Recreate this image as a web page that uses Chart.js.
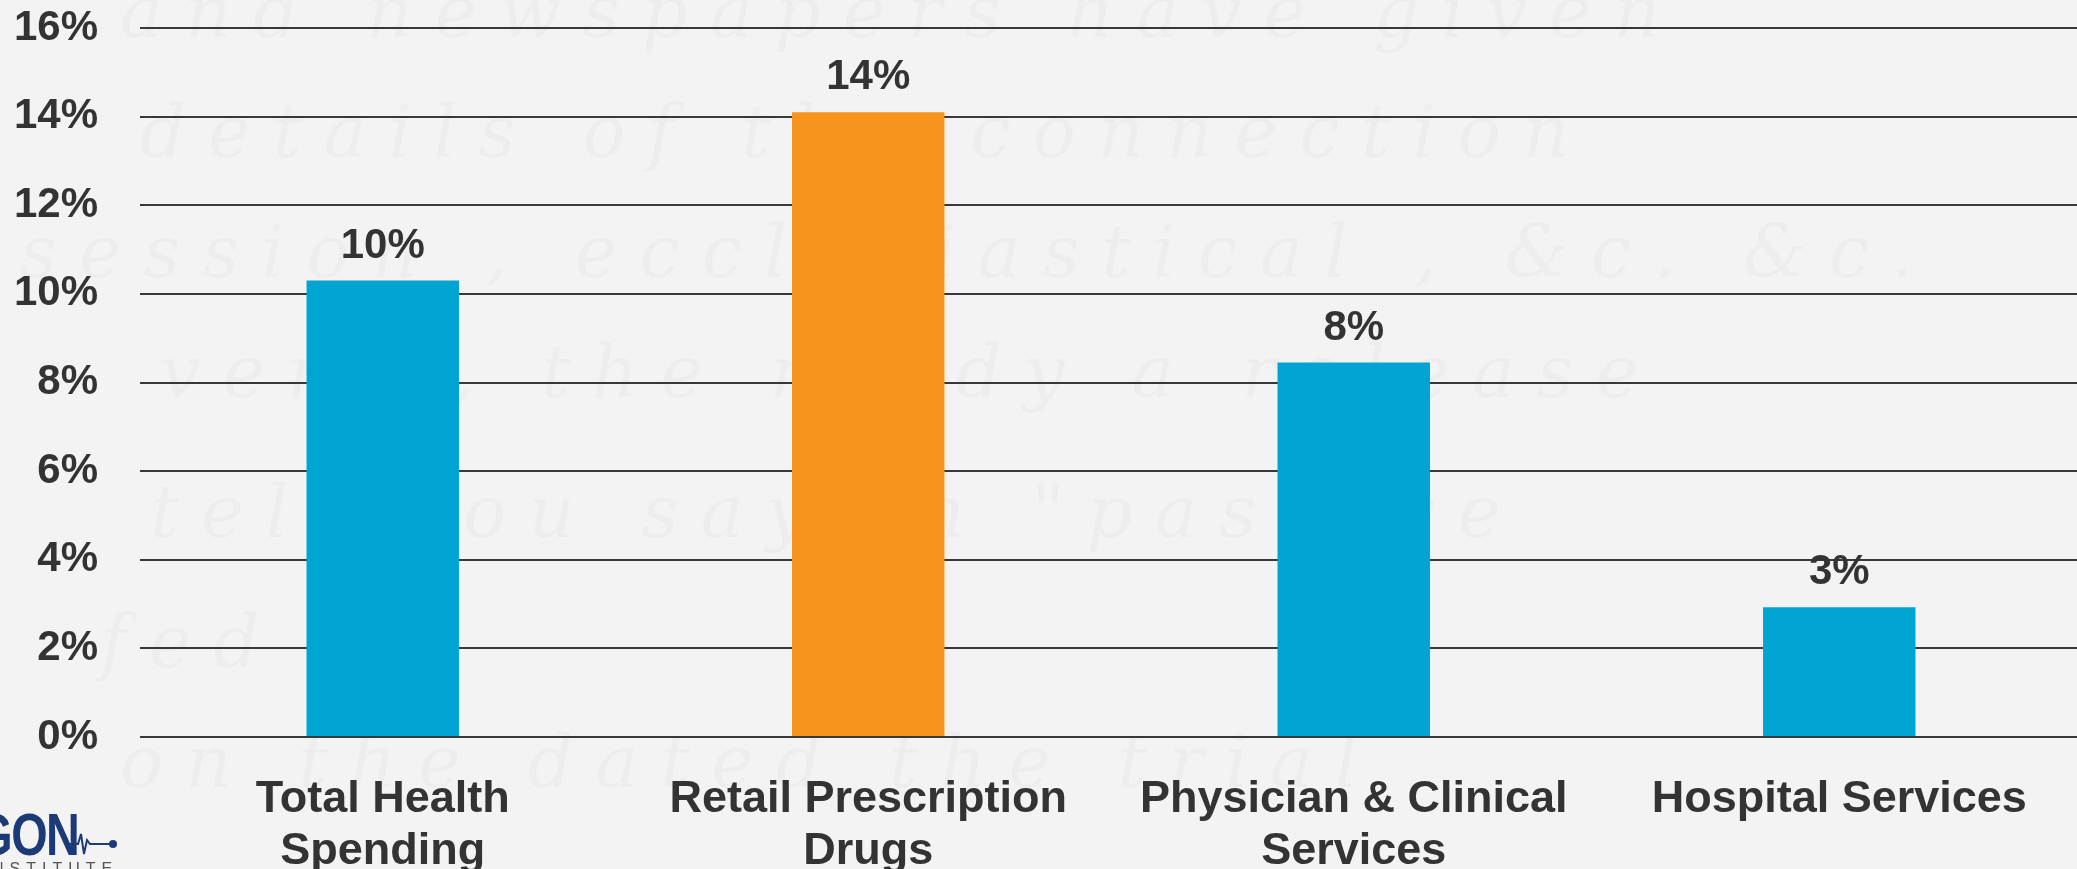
<!DOCTYPE html>
<html>
<head>
<meta charset="utf-8">
<title>Health spending growth</title>
<script src="https://cdn.jsdelivr.net/npm/chart.js@4.4.1/dist/chart.umd.min.js"></script>
<style>
  html, body { margin: 0; padding: 0; }
  body {
    width: 2077px;
    height: 869px;
    overflow: hidden;
    background: #f3f3f3;
    position: relative;
    font-family: "Liberation Sans", Arial, sans-serif;
  }
  .paper {
    position: absolute;
    left: 0; top: 0; width: 2077px; height: 869px;
    font-family: "DejaVu Serif", serif;
    font-style: italic;
    font-size: 72px;
    color: rgba(0, 0, 0, 0.025);
    letter-spacing: 22px;
    white-space: nowrap;
    pointer-events: none;
  }
  .paper div { position: absolute; }
  .wrap {
    position: absolute;
    left: 0; top: 0;
    width: 2082px;
    height: 869px;
  }
  .logo {
    position: absolute;
    left: 0; top: 800px;
    width: 130px; height: 69px;
    overflow: hidden;
  }
  .logo .name {
    position: absolute;
    right: 52px; top: 0px;
    font-size: 60px;
    font-weight: bold;
    color: #1d3a78;
    transform: scaleX(0.78);
    transform-origin: right top;
    letter-spacing: -2px;
  }
  .logo .sub {
    position: absolute;
    left: -8px; top: 60px;
    font-size: 16px;
    color: #555;
    letter-spacing: 6px;
  }
  .logo svg { position: absolute; left: 70px; top: 28px; }
</style>
</head>
<body>
<div class="paper">
  <div style="left:120px;top:-30px">and newspapers have given</div>
  <div style="left:140px;top:90px">details of the connection</div>
  <div style="left:20px;top:210px">session , ecclesiastical , &amp;c. &amp;c.</div>
  <div style="left:160px;top:330px">very , the  ready a release</div>
  <div style="left:150px;top:470px">tell you  say  in "past  we</div>
  <div style="left:100px;top:600px">fed</div>
  <div style="left:120px;top:720px">on the  dated  the  trial</div>
</div>
<div class="wrap"><canvas id="growthChart"></canvas></div>
<div class="logo">
  <div class="name">PARAGON</div>
  <svg width="50" height="30" viewBox="0 0 50 30">
    <polyline points="0,16 8,16 11,6 14,26 17,12 20,16 40,16" fill="none" stroke="#1d3a78" stroke-width="2"/>
    <circle cx="43" cy="16" r="4" fill="#1d3a78"/>
  </svg>
  <div class="sub">NSTITUTE</div>
</div>
<script>
// chart data
const categories = [
  ["Total Health", "Spending"],
  ["Retail Prescription", "Drugs"],
  ["Physician & Clinical", "Services"],
  "Hospital Services",
];
const growthValues = [10.3, 14.1, 8.45, 2.93];
const valueLabels = ["10%", "14%", "8%", "3%"];
const barColors = ["#00a4d2", "#f7941d", "#00a4d2", "#00a4d2"];
const yTickValues = [0, 2, 4, 6, 8, 10, 12, 14, 16];

const textColor = "#333333";
const fontFamily = '"Liberation Sans", Arial, sans-serif';

// value labels above the bars
const barValueLabels = {
  id: "barValueLabels",
  afterDatasetsDraw(chart) {
    const ctx = chart.ctx;
    const meta = chart.getDatasetMeta(0);
    ctx.save();
    ctx.font = "bold 42px " + fontFamily;
    ctx.fillStyle = textColor;
    ctx.textAlign = "center";
    ctx.textBaseline = "alphabetic";
    meta.data.forEach((bar, i) => {
      ctx.fillText(valueLabels[i], bar.x, bar.y - 23);
    });
    ctx.restore();
  },
};

const growthCtx = document.getElementById("growthChart");
new Chart(growthCtx, {
  type: "bar",
  data: {
    labels: categories,
    datasets: [
      {
        data: growthValues,
        backgroundColor: barColors,
        categoryPercentage: 1,
        barPercentage: 0.314,
      },
    ],
  },
  options: {
    responsive: true,
    maintainAspectRatio: false,
    animation: false,
    layout: { padding: { top: 28, left: 0, right: 0, bottom: 0 } },
    plugins: {
      legend: { display: false },
      tooltip: { enabled: false },
    },
    scales: {
      x: {
        grid: { display: false, drawTicks: false },
        border: { display: false },
        ticks: {
          color: textColor,
          font: { family: fontFamily, size: 45, weight: "bold", lineHeight: 1.17 },
          padding: 36,
          maxRotation: 0,
          autoSkip: false,
        },
        afterFit(scale) {
          scale.height = 132;
          scale.paddingLeft = 0;
          scale.paddingRight = 0;
        },
      },
      y: {
        min: 0,
        max: 16,
        afterBuildTicks(scale) {
          scale.ticks = yTickValues.map((v) => ({ value: v }));
        },
        grid: { color: "#383838", lineWidth: 2, drawTicks: false },
        border: { display: false },
        ticks: {
          color: textColor,
          font: { family: fontFamily, size: 42, weight: "bold" },
          padding: 42,
          callback: (v) => v + "%",
        },
        afterFit(scale) {
          scale.width = 140;
          scale.paddingTop = 0;
          scale.paddingBottom = 0;
        },
      },
    },
  },
  plugins: [barValueLabels],
});
</script>
</body>
</html>
